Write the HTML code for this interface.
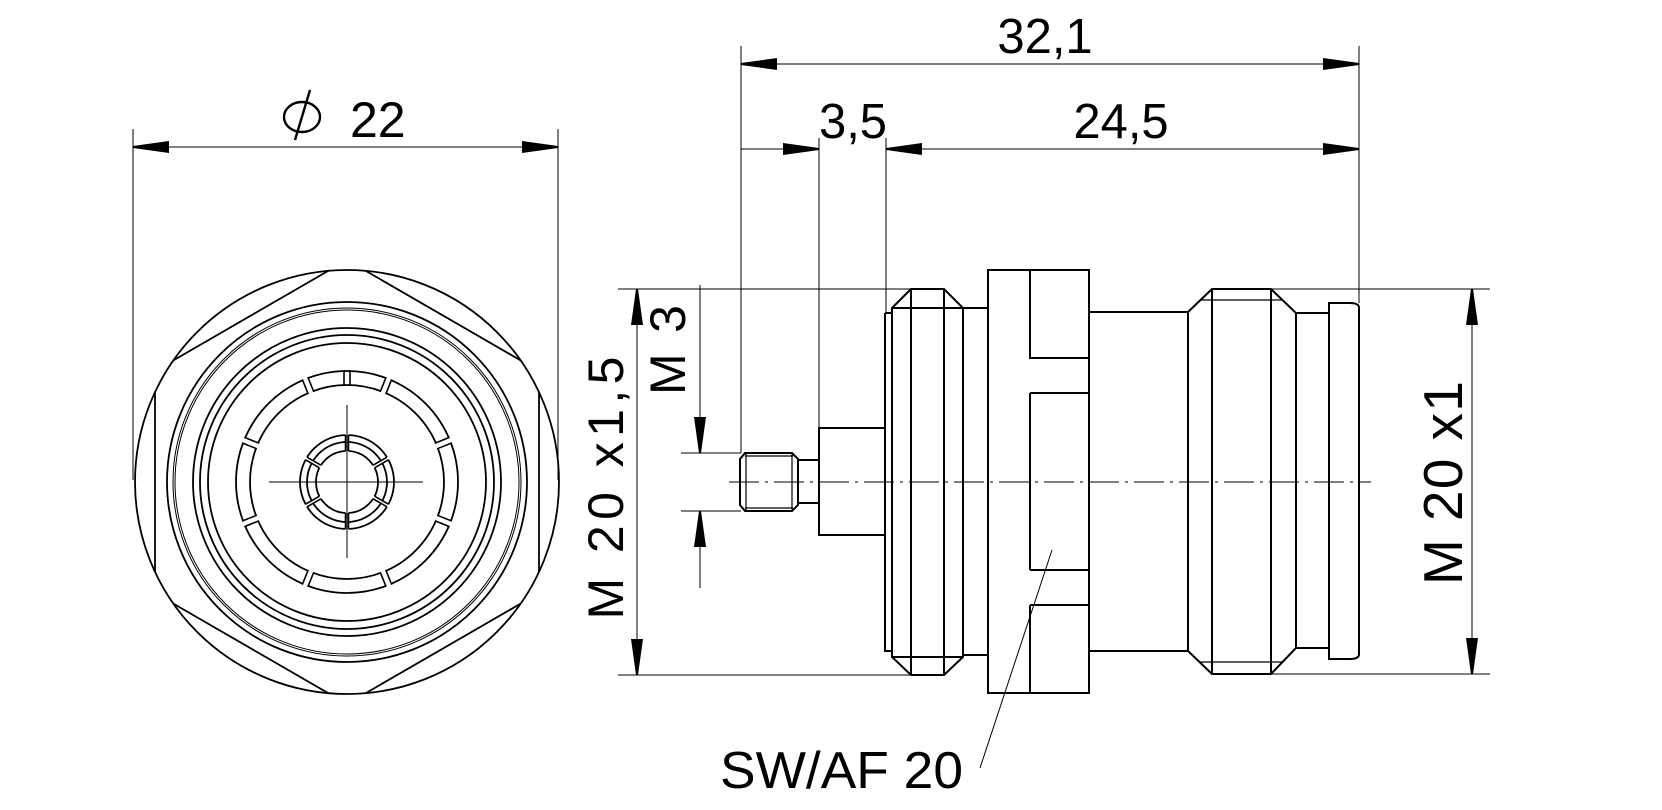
<!DOCTYPE html>
<html><head><meta charset="utf-8"><style>html,body{margin:0;padding:0;background:#fff}svg{display:block}</style></head>
<body>
<svg width="1662" height="810" viewBox="0 0 1662 810" xmlns="http://www.w3.org/2000/svg">
<defs>
<clipPath id="cc"><circle cx="347" cy="482" r="212"/></clipPath>
<marker id="a" viewBox="0 0 36 12" refX="36" refY="6" markerWidth="36" markerHeight="12" markerUnits="userSpaceOnUse" orient="auto"><path d="M0,0 L36,5 L36,7 L0,12Z" fill="#000"/></marker>
</defs>
<g fill="none" stroke="#000" stroke-width="1.8">
<polygon points="347,260 539,371 539,593 347,704 155,593 155,371" clip-path="url(#cc)"/>
<circle cx="347" cy="482" r="212"/>
<circle cx="347" cy="482" r="180"/>
<circle cx="347" cy="482" r="174" stroke-width="1"/>
<circle cx="347" cy="482" r="172" stroke-width="1"/>
<circle cx="347" cy="482" r="154"/>
<circle cx="347" cy="482" r="147"/>
<circle cx="347" cy="482" r="139"/>
<circle cx="347" cy="482" r="111"/>
<circle cx="347" cy="482" r="97"/>
<circle cx="347" cy="482" r="47"/>
<circle cx="347" cy="482" r="40"/>
<circle cx="347" cy="482" r="31"/>
</g>
<g stroke="#fff" stroke-width="6">
<line x1="347" y1="386" x2="347" y2="369" transform="rotate(22 347 482)"/>
<line x1="347" y1="386" x2="347" y2="369" transform="rotate(-22 347 482)"/>
<line x1="347" y1="386" x2="347" y2="369" transform="rotate(68 347 482)"/>
<line x1="347" y1="386" x2="347" y2="369" transform="rotate(-68 347 482)"/>
<line x1="347" y1="386" x2="347" y2="369" transform="rotate(112 347 482)"/>
<line x1="347" y1="386" x2="347" y2="369" transform="rotate(-112 347 482)"/>
<line x1="347" y1="386" x2="347" y2="369" transform="rotate(158 347 482)"/>
<line x1="347" y1="386" x2="347" y2="369" transform="rotate(-158 347 482)"/>
<line x1="347" y1="452" x2="347" y2="433" stroke-width="3"/>
<line x1="347" y1="452" x2="347" y2="433" stroke-width="3" transform="rotate(60 347 482)"/>
<line x1="347" y1="452" x2="347" y2="433" stroke-width="3" transform="rotate(120 347 482)"/>
<line x1="347" y1="452" x2="347" y2="433" stroke-width="3" transform="rotate(180 347 482)"/>
<line x1="347" y1="452" x2="347" y2="433" stroke-width="3" transform="rotate(240 347 482)"/>
<line x1="347" y1="452" x2="347" y2="433" stroke-width="3" transform="rotate(300 347 482)"/>
</g>
<g stroke="#000" stroke-width="1.6">
<g id="sl"><line x1="344" y1="386" x2="344" y2="370"/><line x1="350" y1="386" x2="350" y2="370"/></g>
<use href="#sl" transform="rotate(22 347 482)"/><use href="#sl" transform="rotate(-22 347 482)"/>
<use href="#sl" transform="rotate(68 347 482)"/><use href="#sl" transform="rotate(-68 347 482)"/>
<use href="#sl" transform="rotate(112 347 482)"/><use href="#sl" transform="rotate(-112 347 482)"/>
<use href="#sl" transform="rotate(158 347 482)"/><use href="#sl" transform="rotate(-158 347 482)"/>
<g id="s2"><line x1="345.5" y1="451" x2="345.5" y2="435"/><line x1="348.5" y1="451" x2="348.5" y2="435"/></g>
<use href="#s2" transform="rotate(60 347 482)"/><use href="#s2" transform="rotate(120 347 482)"/>
<use href="#s2" transform="rotate(180 347 482)"/><use href="#s2" transform="rotate(240 347 482)"/>
<use href="#s2" transform="rotate(300 347 482)"/>
</g>
<g stroke="#000" stroke-width="1">
<line x1="269" y1="482" x2="423" y2="482"/><line x1="347" y1="405" x2="347" y2="558"/>
<line x1="133" y1="129" x2="133" y2="480"/><line x1="558" y1="129" x2="558" y2="480"/>
<line x1="170" y1="147" x2="133" y2="147" marker-end="url(#a)"/>
<line x1="520" y1="147" x2="558" y2="147" marker-end="url(#a)"/>
<line x1="170" y1="147" x2="520" y2="147"/>
</g>
<ellipse cx="302" cy="117" rx="18" ry="15" fill="none" stroke="#000" stroke-width="2.4"/>
<line x1="310" y1="90" x2="295" y2="140" stroke="#000" stroke-width="2.4"/>
<g font-family="Liberation Sans, sans-serif" fill="#000">
<text x="350" y="137" font-size="50">22</text>
<text x="1045" y="53" font-size="49" text-anchor="middle">32,1</text>
<text x="853" y="138" font-size="49" text-anchor="middle">3,5</text>
<text x="1121" y="138" font-size="49" text-anchor="middle">24,5</text>
<text x="720" y="788" font-size="52" textLength="243" lengthAdjust="spacingAndGlyphs">SW/AF 20</text>
<text transform="translate(623,488) rotate(-90)" font-size="50" text-anchor="middle" textLength="263" lengthAdjust="spacing">M 20  x1,5</text>
<text transform="translate(685,350) rotate(-90)" font-size="50" text-anchor="middle" textLength="90" lengthAdjust="spacing">M 3</text>
<text transform="translate(1462,483) rotate(-90)" font-size="55" text-anchor="middle" textLength="204" lengthAdjust="spacing">M 20  x1</text>
</g>
<g stroke="#000" stroke-width="1" fill="none">
<line x1="741" y1="46" x2="741" y2="453"/>
<line x1="819" y1="138" x2="819" y2="428"/>
<line x1="886" y1="138" x2="886" y2="313"/>
<line x1="1359" y1="46" x2="1359" y2="303"/>
<line x1="790" y1="64" x2="1310" y2="64"/>
<line x1="790" y1="64" x2="741" y2="64" marker-end="url(#a)"/>
<line x1="1310" y1="64" x2="1359" y2="64" marker-end="url(#a)"/>
<line x1="741" y1="149" x2="819" y2="149" marker-end="url(#a)"/>
<line x1="930" y1="149" x2="886" y2="149" marker-end="url(#a)"/>
<line x1="930" y1="149" x2="1359" y2="149" marker-end="url(#a)"/>
<line x1="618" y1="289" x2="911" y2="289"/><line x1="618" y1="675" x2="911" y2="675"/>
<line x1="1212" y1="289" x2="1490" y2="289"/><line x1="1271" y1="674" x2="1490" y2="674"/>
<line x1="637" y1="330" x2="637" y2="630"/>
<line x1="637" y1="330" x2="637" y2="289" marker-end="url(#a)"/>
<line x1="637" y1="630" x2="637" y2="675" marker-end="url(#a)"/>
<line x1="1472" y1="330" x2="1472" y2="630"/>
<line x1="1472" y1="330" x2="1472" y2="289" marker-end="url(#a)"/>
<line x1="1472" y1="630" x2="1472" y2="674" marker-end="url(#a)"/>
<line x1="681" y1="453" x2="741" y2="453"/><line x1="681" y1="511" x2="741" y2="511"/>
<line x1="700" y1="285" x2="700" y2="417"/>
<line x1="700" y1="417" x2="700" y2="453" marker-end="url(#a)"/>
<line x1="700" y1="511" x2="700" y2="588"/>
<line x1="700" y1="547" x2="700" y2="511" marker-end="url(#a)"/>
<line x1="1052" y1="550" x2="980" y2="768"/>
<line x1="729" y1="482" x2="1371" y2="482" stroke-dasharray="30 6 3 6"/>
</g>
<g stroke="#000" stroke-width="2" fill="none">
<path d="M745,453 H792 L798,459 V505 L792,511 H745 L740,505 V459Z"/>
<line x1="746" y1="454" x2="746" y2="510" stroke-width="1.2"/><line x1="792" y1="454" x2="792" y2="510" stroke-width="1.2"/>
<line x1="745" y1="456" x2="793" y2="456" stroke-width="1.2"/><line x1="745" y1="508" x2="793" y2="508" stroke-width="1.2"/>
<rect x="798" y="460" width="21" height="43"/>
<rect x="819" y="428" width="66" height="107"/>
<path d="M885,313 H892 M885,313 V651 H892"/>
<path d="M892,308 L911,289 H944 L963,308 V657 L944,675 H911 L892,657Z"/>
<line x1="911" y1="289" x2="911" y2="675"/><line x1="944" y1="289" x2="944" y2="675"/>
<line x1="892" y1="308" x2="963" y2="308"/><line x1="892" y1="657" x2="963" y2="657"/>
<rect x="963" y="308" width="25" height="347"/>
<rect x="988" y="270" width="101" height="423"/>
<path d="M1030,270 V358 H1089 M1030,393 V570 M1030,393 H1089 M1030,570 H1089 M1030,605 H1089 M1030,605 V693"/>
<rect x="1089" y="312" width="99" height="339"/>
<path d="M1188,312 L1212,289 H1271 L1296,313 V648 L1271,674 H1212 L1188,651Z"/>
<line x1="1212" y1="289" x2="1212" y2="674"/><line x1="1271" y1="289" x2="1271" y2="674"/>
<line x1="1200" y1="300" x2="1283" y2="300" stroke-width="1.2"/><line x1="1200" y1="662" x2="1283" y2="662" stroke-width="1.2"/>
<rect x="1296" y="313" width="33" height="335"/>
<path d="M1329,303 H1350 Q1358,303 1359,307 V655 Q1358,659 1350,659 H1329Z"/>
</g>
</svg>
</body></html>
